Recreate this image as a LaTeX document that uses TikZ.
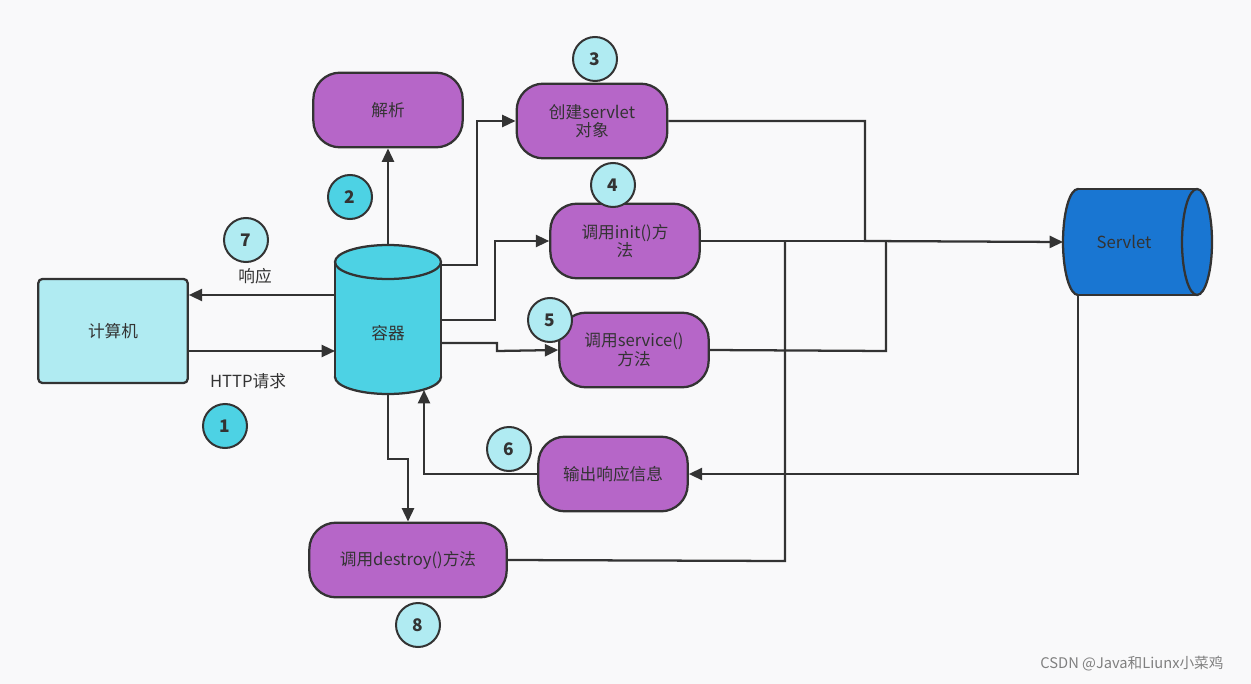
\documentclass[tikz,border=0pt]{standalone}
\usepackage{fontspec}
\setmainfont{Noto Sans CJK SC}
\usetikzlibrary{shapes.geometric,arrows.meta}
\definecolor{bg}{HTML}{F9F9FA}
\definecolor{pur}{HTML}{B666C8}
\definecolor{cyanA}{HTML}{4DD2E4}
\definecolor{cyanL}{HTML}{B0EBF2}
\definecolor{blu}{HTML}{1976D2}
\definecolor{ln}{HTML}{333333}
\begin{document}
\begin{tikzpicture}[x=0.75pt,y=-0.75pt,font=\fontsize{12.5pt}{14pt}\selectfont,text=ln,
  proc/.style={draw=ln,line width=1.7pt,fill=pur,rounded corners=20pt,minimum height=56pt,align=center},
  num/.style={circle,draw=ln,line width=1.5pt,minimum size=33pt,inner sep=0pt,font=\fontsize{13pt}{14pt}\selectfont\bfseries},
  ar/.style={draw=ln,line width=1.7pt,-{Triangle[length=10pt,width=9pt]}},
  ln/.style={draw=ln,line width=1.7pt},
  box/.style={inner sep=0pt,outer sep=0pt}]
\fill[bg] (0,0) rectangle (1251,684);
\useasboundingbox (0,0) rectangle (1251,684);
% container cylinder
\filldraw[fill=cyanA,draw=ln,line width=1.7pt] (388,377) ellipse [x radius=39.75pt,y radius=12.75pt];
\fill[cyanA] (335,262) rectangle (441,377);
\draw[ln] (335,262) -- (335,377) (441,262) -- (441,377);
\filldraw[fill=cyanA,draw=ln,line width=1.7pt] (388,262) ellipse [x radius=39.75pt,y radius=12.75pt];
\node[box,minimum width=79.5pt,minimum height=111.75pt] (c) at (388,319.5) {};
\node (ct) at (388,333) {容器};
% servlet cylinder
\filldraw[fill=blu,draw=ln,line width=1.7pt] (1078,242) ellipse [x radius=11.25pt,y radius=39.75pt];
\fill[blu] (1078,189) rectangle (1197,295);
\draw[ln] (1078,189) -- (1197,189) (1078,295) -- (1197,295);
\filldraw[fill=blu,draw=ln,line width=1.7pt] (1197,242) ellipse [x radius=11.25pt,y radius=39.75pt];
\node[box,minimum width=111.75pt,minimum height=79.5pt] (s) at (1137.5,242) {};
\node (st) at (1124,242) {Servlet};
\node[draw=ln,line width=1.7pt,fill=cyanL,rounded corners=3pt,minimum width=112pt,minimum height=78pt] (pc) at (113,331) {计算机};
\node[proc,minimum width=112pt] (jx) at (388,110) {解析};
\node[proc,minimum width=113pt] (cj) at (592,121) {创建servlet\\对象};
\node[proc,minimum width=112pt] (init) at (625,241) {调用init()方\\法};
\node[proc,minimum width=112pt] (sv) at (634,350) {调用service()\\方法};
\node[proc,minimum width=112pt] (out) at (613,474) {输出响应信息};
\node[proc,minimum width=148pt] (ds) at (408,560) {调用destroy()方法};
\node[num,fill=cyanA] (n1) at (225,426) {1};
\node[num,fill=cyanA] (n2) at (350,197) {2};
\node[num,fill=cyanL] (n3) at (595,59) {3};
\node[num,fill=cyanL] (n4) at (613,185) {4};
\node[num,fill=cyanL] (n5) at (550,320) {5};
\node[num,fill=cyanL] (n6) at (509,449) {6};
\node[num,fill=cyanL] (n7) at (246,240) {7};
\node[num,fill=cyanL] (n8) at (418,625) {8};
\node (l7) at (255,276) {响应};
\node (l1) at (248,381) {HTTP请求};
\node[text=gray,font=\fontsize{11pt}{12pt}\selectfont] (wm) at (1132,664) {CSDN @Java和Liunx小菜鸡};
\draw[ar] (188,351) -- (c.west |- 0,351);
\draw[ar] (c.west |- 0,295) -- (pc.east |- 0,295);
\draw[ar] (c.north) -- (jx.south);
\draw[ar] (441,265) -- (477,265) -- (477,121) -- (cj.west);
\draw[ar] (441,320) -- (495,320) -- (495,241) -- (init.west);
\draw[ar] (441,343) -- (497,343) -- (497,351) -- (sv.west);
\draw[ar] (c.south) -- (388,459) -- (408,459) -- (ds.north);
\draw[ar] (out.west) -- (424,474) -- (424,390);
\draw[ar] (1078,295) -- (1078,474) -- (out.east);
\draw[ar] (cj.east) -- (865,121) -- (865,241) -- (s.west);
\draw[ln] (init.east) -- (865,241);
\draw[ln] (sv.east) -- (886,351) -- (886,241);
\draw[ln] (ds.east) -- (785,561) -- (785,241);
\end{tikzpicture}
\end{document}
